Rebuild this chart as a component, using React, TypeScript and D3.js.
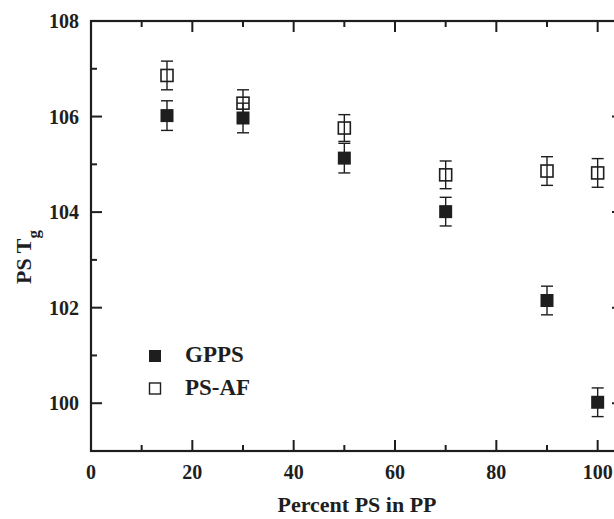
import React from "react";
import * as d3 from "d3";

const percentPS = [15, 30, 50, 70, 90, 100];
const gppsTg = [106.02, 105.97, 105.13, 104.01, 102.15, 100.02];
const gppsErr = [0.31, 0.31, 0.31, 0.3, 0.3, 0.3];
const psafTg = [106.86, 106.28, 105.76, 104.78, 104.86, 104.82];
const psafErr = [0.3, 0.28, 0.28, 0.29, 0.3, 0.3];
const xMajor = [0, 20, 40, 60, 80, 100];
const xMinor = [10, 30, 50, 70, 90];
const yMajor = [100, 102, 104, 106, 108];
const yMinor = [101, 103, 105, 107];

const W = 614;
const H = 519;
const FONT = "'Liberation Serif', 'Times New Roman', serif";

export default function App() {
  const x = d3.scaleLinear().domain([0, 105]).range([91, 623]);
  const y = d3.scaleLinear().domain([99, 108]).range([451, 21]);
  const L = x(0), R = x(105), T = y(108), B = y(99);
  const ink = "#1e1e1e";
  const ms = 12;
  const cap = 6;

  const errBars = (vals: number[], errs: number[]) =>
    percentPS.map((p, i) => {
      const cx = x(p);
      const y1 = y(vals[i] + errs[i]);
      const y2 = y(vals[i] - errs[i]);
      return (
        <g key={i} stroke={ink} strokeWidth={1.4}>
          <line x1={cx} x2={cx} y1={y1} y2={y2} />
          <line x1={cx - cap} x2={cx + cap} y1={y1} y2={y1} />
          <line x1={cx - cap} x2={cx + cap} y1={y2} y2={y2} />
        </g>
      );
    });

  return (
    <svg width={W} height={H} style={{ position: "absolute", left: 0, top: 0, background: "#fff" }}>
      <rect x={0} y={0} width={W} height={H} fill="#fff" />
      {/* frame */}
      <rect x={L} y={T} width={R - L} height={B - T} fill="none" stroke={ink} strokeWidth={2.2} />
      {/* x ticks bottom & top */}
      {xMajor.map((v) => (
        <g key={"xm" + v} stroke={ink} strokeWidth={2}>
          <line x1={x(v)} x2={x(v)} y1={B} y2={B - 11} />
          <line x1={x(v)} x2={x(v)} y1={T} y2={T + 11} />
        </g>
      ))}
      {xMinor.map((v) => (
        <g key={"xn" + v} stroke={ink} strokeWidth={2}>
          <line x1={x(v)} x2={x(v)} y1={B} y2={B - 6} />
          <line x1={x(v)} x2={x(v)} y1={T} y2={T + 6} />
        </g>
      ))}
      {yMajor.map((v) => (
        <g key={"ym" + v} stroke={ink} strokeWidth={2}>
          <line x1={L} x2={L + 11} y1={y(v)} y2={y(v)} />
          <line x1={R} x2={R - 11} y1={y(v)} y2={y(v)} />
        </g>
      ))}
      {yMinor.map((v) => (
        <g key={"yn" + v} stroke={ink} strokeWidth={2}>
          <line x1={L} x2={L + 6} y1={y(v)} y2={y(v)} />
          <line x1={R} x2={R - 6} y1={y(v)} y2={y(v)} />
        </g>
      ))}
      {/* tick labels */}
      <g fontFamily={FONT} fontWeight="bold" fontSize={20} fill={ink}>
        {xMajor.map((v) => (
          <text key={"xl" + v} x={x(v)} y={479} textAnchor="middle">
            {v}
          </text>
        ))}
        {yMajor.map((v) => (
          <text key={"yl" + v} x={79} y={y(v) + 7} textAnchor="end">
            {v}
          </text>
        ))}
      </g>
      {/* axis titles */}
      <text x={357} y={512} textAnchor="middle" fontFamily={FONT} fontWeight="bold" fontSize={22} fill={ink}>
        Percent PS in PP
      </text>
      <text
        transform={`translate(31, 284) rotate(-90)`}
        textAnchor="start"
        fontFamily={FONT}
        fontWeight="bold"
        fontSize={22}
        fill={ink}
      >
        PS T<tspan fontSize={17} dy={8}>g</tspan>
      </text>
      {/* data */}
      {errBars(psafTg, psafErr)}
      {percentPS.map((p, i) => (
        <rect
          key={"pa" + i}
          x={x(p) - ms / 2}
          y={y(psafTg[i]) - ms / 2}
          width={ms}
          height={ms}
          fill="none"
          stroke={ink}
          strokeWidth={1.6}
        />
      ))}
      {errBars(gppsTg, gppsErr)}
      {percentPS.map((p, i) => (
        <rect
          key={"gp" + i}
          x={x(p) - ms / 2 - 0.5}
          y={y(gppsTg[i]) - ms / 2 - 0.5}
          width={ms + 1}
          height={ms + 1}
          fill={ink}
        />
      ))}
      {/* legend */}
      <rect x={149} y={350} width={12} height={12} fill={ink} />
      <rect x={149.5} y={383} width={11} height={11} fill="none" stroke={ink} strokeWidth={1.4} />
      <g fontFamily={FONT} fontWeight="bold" fontSize={23} fill={ink}>
        <text x={185} y={362}>GPPS</text>
        <text x={185} y={395}>PS-AF</text>
      </g>
    </svg>
  );
}
